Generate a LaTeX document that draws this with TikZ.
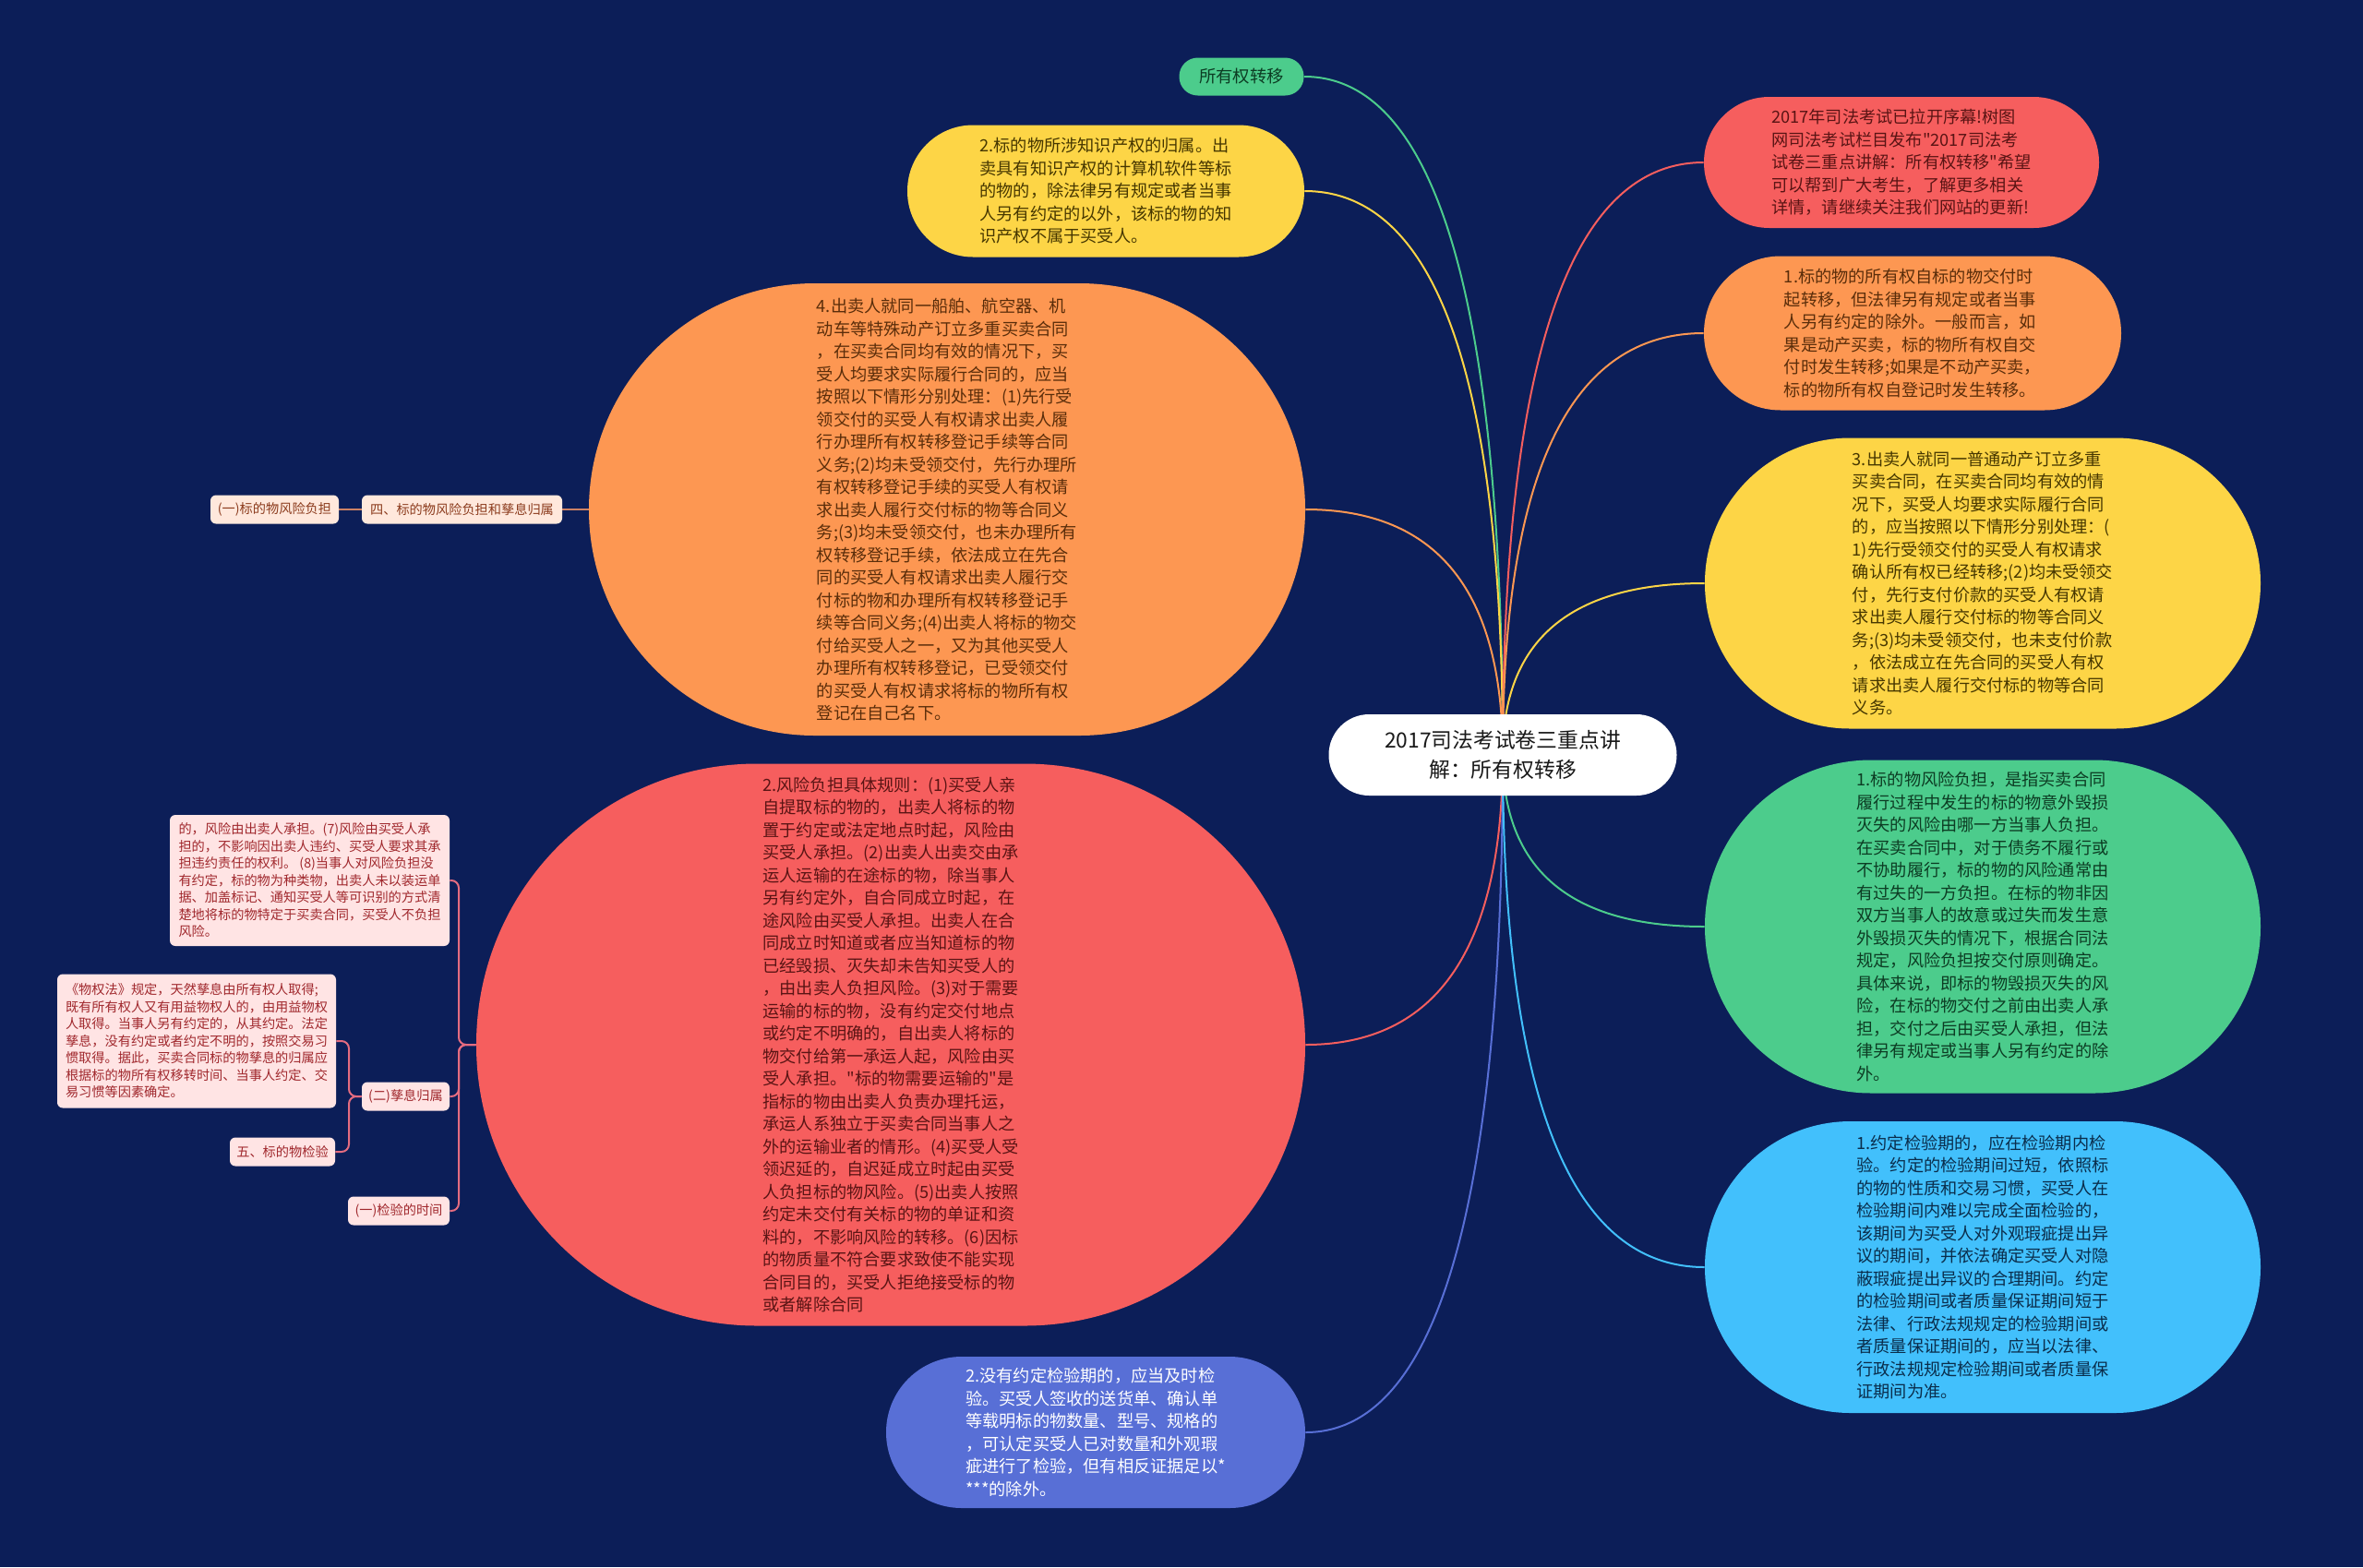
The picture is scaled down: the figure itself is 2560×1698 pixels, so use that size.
\documentclass[tikz,border=0pt]{standalone}
\usepackage{fontspec}
\setmainfont{Noto Sans CJK SC}
\newfontfamily\cjkf{Noto Sans CJK SC}
\usetikzlibrary{calc}
\pgfdeclarelayer{bgl}
\pgfsetlayers{bgl,main}
\definecolor{bgc}{RGB}{12,30,88}
\definecolor{cgreen}{RGB}{76,204,140}
\definecolor{cyellow}{RGB}{253,213,70}
\definecolor{cred}{RGB}{246,94,94}
\definecolor{corange}{RGB}{253,151,82}
\definecolor{cblue}{RGB}{66,192,252}
\definecolor{cpurple}{RGB}{88,111,214}
\definecolor{ytext}{RGB}{70,55,0}
\definecolor{rtext}{RGB}{90,20,20}
\definecolor{otext}{RGB}{90,45,10}
\definecolor{gtext}{RGB}{12,60,35}
\definecolor{btext}{RGB}{10,45,75}
\definecolor{ctext}{RGB}{25,25,25}
\definecolor{pinkfill}{RGB}{255,228,228}
\definecolor{pinktext}{RGB}{160,40,45}
\definecolor{pinkline}{RGB}{228,108,128}
\definecolor{peach}{RGB}{255,232,220}
\definecolor{peachtext}{RGB}{140,60,30}
\definecolor{peachline}{RGB}{205,130,100}
\begin{document}
\begin{tikzpicture}[x=0.5pt,y=-0.5pt,
  pill/.style={inner sep=0pt, align=left, font=\cjkf\fontsize{9.1pt}{12.25pt}\selectfont},
  conn/.style={line width=1pt},
  sbox/.style={fill=pinkfill, text=pinktext, rounded corners=3pt, inner sep=0pt, align=left,
    font=\cjkf\fontsize{7.1pt}{9.25pt}\selectfont, minimum height=15.5pt},
  pbox/.style={sbox, fill=peach, text=peachtext},
]
\begin{pgfonlayer}{bgl}
\fill[bgc] (0,0) rectangle (2560,1698);
\end{pgfonlayer}
\useasboundingbox (0,0) rectangle (2560,1698);

% centre
\node[pill, fill=white, text=ctext, minimum width=188.5pt, minimum height=44pt, rounded corners=21.9pt,
  font=\cjkf\fontsize{11.4pt}{16pt}\selectfont, align=center] (c) at (1628,818)
  {2017司法考试卷三重点讲\\解：所有权转移};

\node[pill, fill=cgreen, text=gtext, minimum width=67.5pt, minimum height=20.5pt, rounded corners=10.1pt,
  font=\cjkf\fontsize{9.2pt}{11pt}\selectfont] (own) at (1345,83) {所有权转移};

\node[pill, fill=cyellow, text=ytext, minimum width=215pt, minimum height=71.5pt, rounded corners=35.6pt] (y1) at (1198,207)
{2.标的物所涉知识产权的归属。出\\
卖具有知识产权的计算机软件等标\\
的物的，除法律另有规定或者当事\\
人另有约定的以外，该标的物的知\\
识产权不属于买受人。};

\node[pill, fill=cred, text=rtext, minimum width=214pt, minimum height=71pt, rounded corners=35.4pt] (r1) at (2060,176)
{2017年司法考试已拉开序幕!树图\\
网司法考试栏目发布"2017司法考\\
试卷三重点讲解：所有权转移"希望\\
可以帮到广大考生，了解更多相关\\
详情，请继续关注我们网站的更新!};

\node[pill, fill=corange, text=otext, minimum width=226pt, minimum height=83.5pt, rounded corners=41.6pt] (o1) at (2072,361)
{1.标的物的所有权自标的物交付时\\
起转移，但法律另有规定或者当事\\
人另有约定的除外。一般而言，如\\
果是动产买卖，标的物所有权自交\\
付时发生转移;如果是不动产买卖，\\
标的物所有权自登记时发生转移。};

\node[pill, fill=cyellow, text=ytext, minimum width=301pt, minimum height=157.5pt, rounded corners=78.6pt] (y2) at (2148,632)
{3.出卖人就同一普通动产订立多重\\
买卖合同，在买卖合同均有效的情\\
况下，买受人均要求实际履行合同\\
的，应当按照以下情形分别处理：(\\
1)先行受领交付的买受人有权请求\\
确认所有权已经转移;(2)均未受领交\\
付，先行支付价款的买受人有权请\\
求出卖人履行交付标的物等合同义\\
务;(3)均未受领交付，也未支付价款\\
，依法成立在先合同的买受人有权\\
请求出卖人履行交付标的物等合同\\
义务。};

\node[pill, fill=cgreen, text=gtext, minimum width=301pt, minimum height=180.5pt, rounded corners=90.1pt] (g1) at (2148,1004)
{1.标的物风险负担，是指买卖合同\\
履行过程中发生的标的物意外毁损\\
灭失的风险由哪一方当事人负担。\\
在买卖合同中，对于债务不履行或\\
不协助履行，标的物的风险通常由\\
有过失的一方负担。在标的物非因\\
双方当事人的故意或过失而发生意\\
外毁损灭失的情况下，根据合同法\\
规定，风险负担按交付原则确定。\\
具体来说，即标的物毁损灭失的风\\
险，在标的物交付之前由出卖人承\\
担，交付之后由买受人承担，但法\\
律另有规定或当事人另有约定的除\\
外。};

\node[pill, fill=cblue, text=btext, minimum width=301pt, minimum height=158pt, rounded corners=78.9pt] (b1) at (2148,1373)
{1.约定检验期的，应在检验期内检\\
验。约定的检验期间过短，依照标\\
的物的性质和交易习惯，买受人在\\
检验期间内难以完成全面检验的，\\
该期间为买受人对外观瑕疵提出异\\
议的期间，并依法确定买受人对隐\\
蔽瑕疵提出异议的合理期间。约定\\
的检验期间或者质量保证期间短于\\
法律、行政法规规定的检验期间或\\
者质量保证期间的，应当以法律、\\
行政法规规定检验期间或者质量保\\
证期间为准。};

\node[pill, fill=cpurple, text=white, minimum width=227pt, minimum height=82pt, rounded corners=40.9pt] (p1) at (1187,1552)
{2.没有约定检验期的，应当及时检\\
验。买受人签收的送货单、确认单\\
等载明标的物数量、型号、规格的\\
，可认定买受人已对数量和外观瑕\\
疵进行了检验，但有相反证据足以*\\
***的除外。};

\node[pill, fill=corange, text=otext, minimum width=388pt, minimum height=245pt, rounded corners=122.4pt] (o2) at (1026,552)
{4.出卖人就同一船舶、航空器、机\\
动车等特殊动产订立多重买卖合同\\
，在买卖合同均有效的情况下，买\\
受人均要求实际履行合同的，应当\\
按照以下情形分别处理：(1)先行受\\
领交付的买受人有权请求出卖人履\\
行办理所有权转移登记手续等合同\\
义务;(2)均未受领交付，先行办理所\\
有权转移登记手续的买受人有权请\\
求出卖人履行交付标的物等合同义\\
务;(3)均未受领交付，也未办理所有\\
权转移登记手续，依法成立在先合\\
同的买受人有权请求出卖人履行交\\
付标的物和办理所有权转移登记手\\
续等合同义务;(4)出卖人将标的物交\\
付给买受人之一，又为其他买受人\\
办理所有权转移登记，已受领交付\\
的买受人有权请求将标的物所有权\\
登记在自己名下。};

\node[pill, fill=cred, text=rtext, minimum width=449pt, minimum height=304.5pt, rounded corners=152.1pt] (r2) at (965,1132)
{2.风险负担具体规则：(1)买受人亲\\
自提取标的物的，出卖人将标的物\\
置于约定或法定地点时起，风险由\\
买受人承担。(2)出卖人出卖交由承\\
运人运输的在途标的物，除当事人\\
另有约定外，自合同成立时起，在\\
途风险由买受人承担。出卖人在合\\
同成立时知道或者应当知道标的物\\
已经毁损、灭失却未告知买受人的\\
，由出卖人负担风险。(3)对于需要\\
运输的标的物，没有约定交付地点\\
或约定不明确的，自出卖人将标的\\
物交付给第一承运人起，风险由买\\
受人承担。"标的物需要运输的"是\\
指标的物由出卖人负责办理托运，\\
承运人系独立于买卖合同当事人之\\
外的运输业者的情形。(4)买受人受\\
领迟延的，自迟延成立时起由买受\\
人负担标的物风险。(5)出卖人按照\\
约定未交付有关标的物的单证和资\\
料的，不影响风险的转移。(6)因标\\
的物质量不符合要求致使不能实现\\
合同目的，买受人拒绝接受标的物\\
或者解除合同};

% small boxes
\node[pbox, minimum width=108.5pt] (s4) at (500.5,552) {四、标的物风险负担和孳息归属};
\node[pbox, minimum width=69.5pt] (s41) at (297.5,552) {(一)标的物风险负担};

\node[sbox, minimum width=151.5pt, minimum height=71pt] (pk1) at (335.5,954)
{的，风险由出卖人承担。(7)风险由买受人承\\
担的，不影响因出卖人违约、买受人要求其承\\
担违约责任的权利。 (8)当事人对风险负担没\\
有约定，标的物为种类物，出卖人未以装运单\\
据、加盖标记、通知买受人等可识别的方式清\\
楚地将标的物特定于买卖合同，买受人不负担\\
风险。};
\node[sbox, minimum width=47.5pt] (s2) at (439.5,1188) {(二)孳息归属};
\node[sbox, minimum width=55pt] (s1t) at (432,1312) {(一)检验的时间};
\node[sbox, minimum width=151pt, minimum height=72.5pt] (wq) at (213,1128)
{《物权法》规定，天然孳息由所有权人取得;\\
既有所有权人又有用益物权人的，由用益物权\\
人取得。当事人另有约定的，从其约定。法定\\
孳息，没有约定或者约定不明的，按照交易习\\
惯取得。据此，买卖合同标的物孳息的归属应\\
根据标的物所有权移转时间、当事人约定、交\\
易习惯等因素确定。};
\node[sbox, minimum width=57pt] (s5) at (306,1248) {五、标的物检验};

% connectors
\begin{pgfonlayer}{bgl}
\foreach \n/\col in {own/cgreen, y1/cyellow, o2/corange, r2/cred, p1/cpurple}{
  \coordinate (k) at (c.center |- \n.east);
  \draw[conn, \col] (c.center) .. controls ($(c.center)!0.6667!(k)$) and ($(\n.east)!0.6667!(k)$) .. (\n.east);
}
\foreach \n/\col in {r1/cred, o1/corange, y2/cyellow, g1/cgreen, b1/cblue}{
  \coordinate (k) at (c.center |- \n.west);
  \draw[conn, \col] (c.center) .. controls ($(c.center)!0.6667!(k)$) and ($(\n.west)!0.6667!(k)$) .. (\n.west);
}
\draw[conn, peachline, line width=1.3pt] (o2.west) -- (s4.east);
\draw[conn, peachline, line width=1.3pt] (s4.west) -- (s41.east);
\foreach \n in {pk1, s2, s1t}
  \draw[conn, pinkline, rounded corners=4pt] (r2.west) -- (497,1132) |- (\n.east);
\foreach \n in {wq, s5}
  \draw[conn, pinkline, rounded corners=4pt] (s2.west) -- (378,1188) |- (\n.east);
\end{pgfonlayer}
\end{tikzpicture}
\end{document}
